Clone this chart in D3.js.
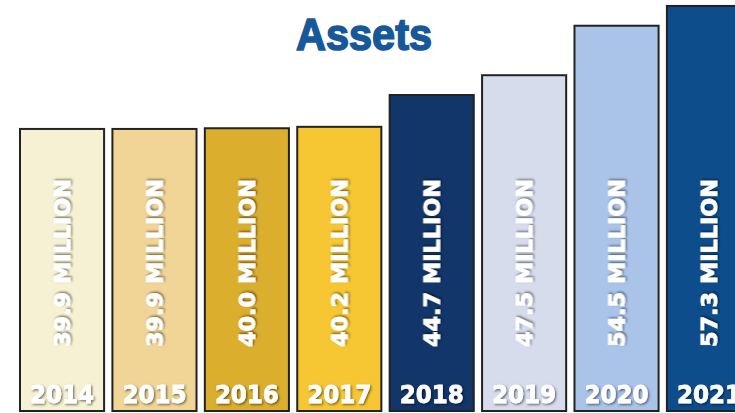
<!DOCTYPE html>
<html lang="en">
<head>
	<meta charset="UTF-8">
	<title>Assets</title>
	<script src="https://d3js.org/d3.v7.min.js"></script>
	<style>
		body { margin: 0; background: #fff; }
	</style>
</head>
<body>
	<svg width="735" height="413"></svg>
	<script>
		// data
		var years = ["2014", "2015", "2016", "2017", "2018", "2019", "2020", "2021"];
		var assets = [39.9, 39.9, 40.0, 40.2, 44.7, 47.5, 54.5, 57.3];
		var labels = ["39.9 MILLION", "39.9 MILLION", "40.0 MILLION", "40.2 MILLION",
			"44.7 MILLION", "47.5 MILLION", "54.5 MILLION", "57.3 MILLION"];
		var barColors = ["#f6f1d2", "#f0d597", "#dcae2e", "#f6c633",
			"#12366a", "#d6dcec", "#a9c4e8", "#0e4d8c"];

		var data = years.map(function(y, i) {
			return { year: y, value: assets[i], label: labels[i], color: barColors[i] };
		});

		var svg = d3.select("svg");

		// soft dark shadow under white text
		var defs = svg.append("defs");
		var f = defs.append("filter").attr("id", "shadow")
			.attr("x", "-20%").attr("y", "-20%").attr("width", "140%").attr("height", "140%");
		f.append("feDropShadow")
			.attr("dx", 1.2).attr("dy", 1.2)
			.attr("stdDeviation", 1.2)
			.attr("flood-color", "#000")
			.attr("flood-opacity", 0.55);

		var x = d3.scaleBand()
			.domain(years)
			.range([20, 751])
			.paddingInner(0.09)
			.paddingOuter(0);

		var y = d3.scaleLinear()
			.domain([0, 58])
			.range([411, 1]);

		// title
		svg.append("text")
			.attr("x", 364)
			.attr("y", 50)
			.attr("text-anchor", "middle")
			.style("font-family", "'Liberation Sans Narrow', 'Liberation Sans', sans-serif")
			.style("font-weight", "bold")
			.style("font-size", "45px")
			.style("fill", "#17589b")
			.style("stroke", "#17589b")
			.style("stroke-width", 1.6)
			.attr("textLength", 136)
			.attr("lengthAdjust", "spacingAndGlyphs")
			.text("Assets");

		var bars = svg.selectAll(".bar")
			.data(data)
			.enter()
			.append("g")
			.attr("class", "bar");

		bars.append("rect")
			.attr("x", function(d) { return x(d.year); })
			.attr("y", function(d) { return y(d.value); })
			.attr("width", x.bandwidth())
			.attr("height", function(d) { return y(0) - y(d.value); })
			.attr("fill", function(d) { return d.color; })
			.attr("stroke", "#222")
			.attr("stroke-width", 2);

		// rotated value labels
		bars.append("text")
			.attr("transform", function(d) {
				return "translate(" + (x(d.year) + x.bandwidth() / 2 + 8) + ",263) rotate(-90)";
			})
			.attr("text-anchor", "middle")
			.style("font-family", "'DejaVu Sans', sans-serif")
			.style("font-weight", "bold")
			.style("font-size", "22px")
			.style("fill", "#fff")
			.style("stroke", "#fff")
			.style("stroke-width", 0.8)
			.attr("textLength", 168)
			.attr("lengthAdjust", "spacingAndGlyphs")
			.attr("filter", "url(#shadow)")
			.text(function(d) { return d.label; });

		// year labels
		bars.append("text")
			.attr("x", function(d) { return x(d.year) + x.bandwidth() / 2; })
			.attr("y", 403)
			.attr("text-anchor", "middle")
			.style("font-family", "'DejaVu Sans', sans-serif")
			.style("font-weight", "bold")
			.style("font-size", "25px")
			.style("fill", "#fff")
			.style("stroke", "#fff")
			.style("stroke-width", 0.8)
			.attr("textLength", 64)
			.attr("lengthAdjust", "spacingAndGlyphs")
			.attr("filter", "url(#shadow)")
			.text(function(d) { return d.year; });
	</script>
</body>
</html>
